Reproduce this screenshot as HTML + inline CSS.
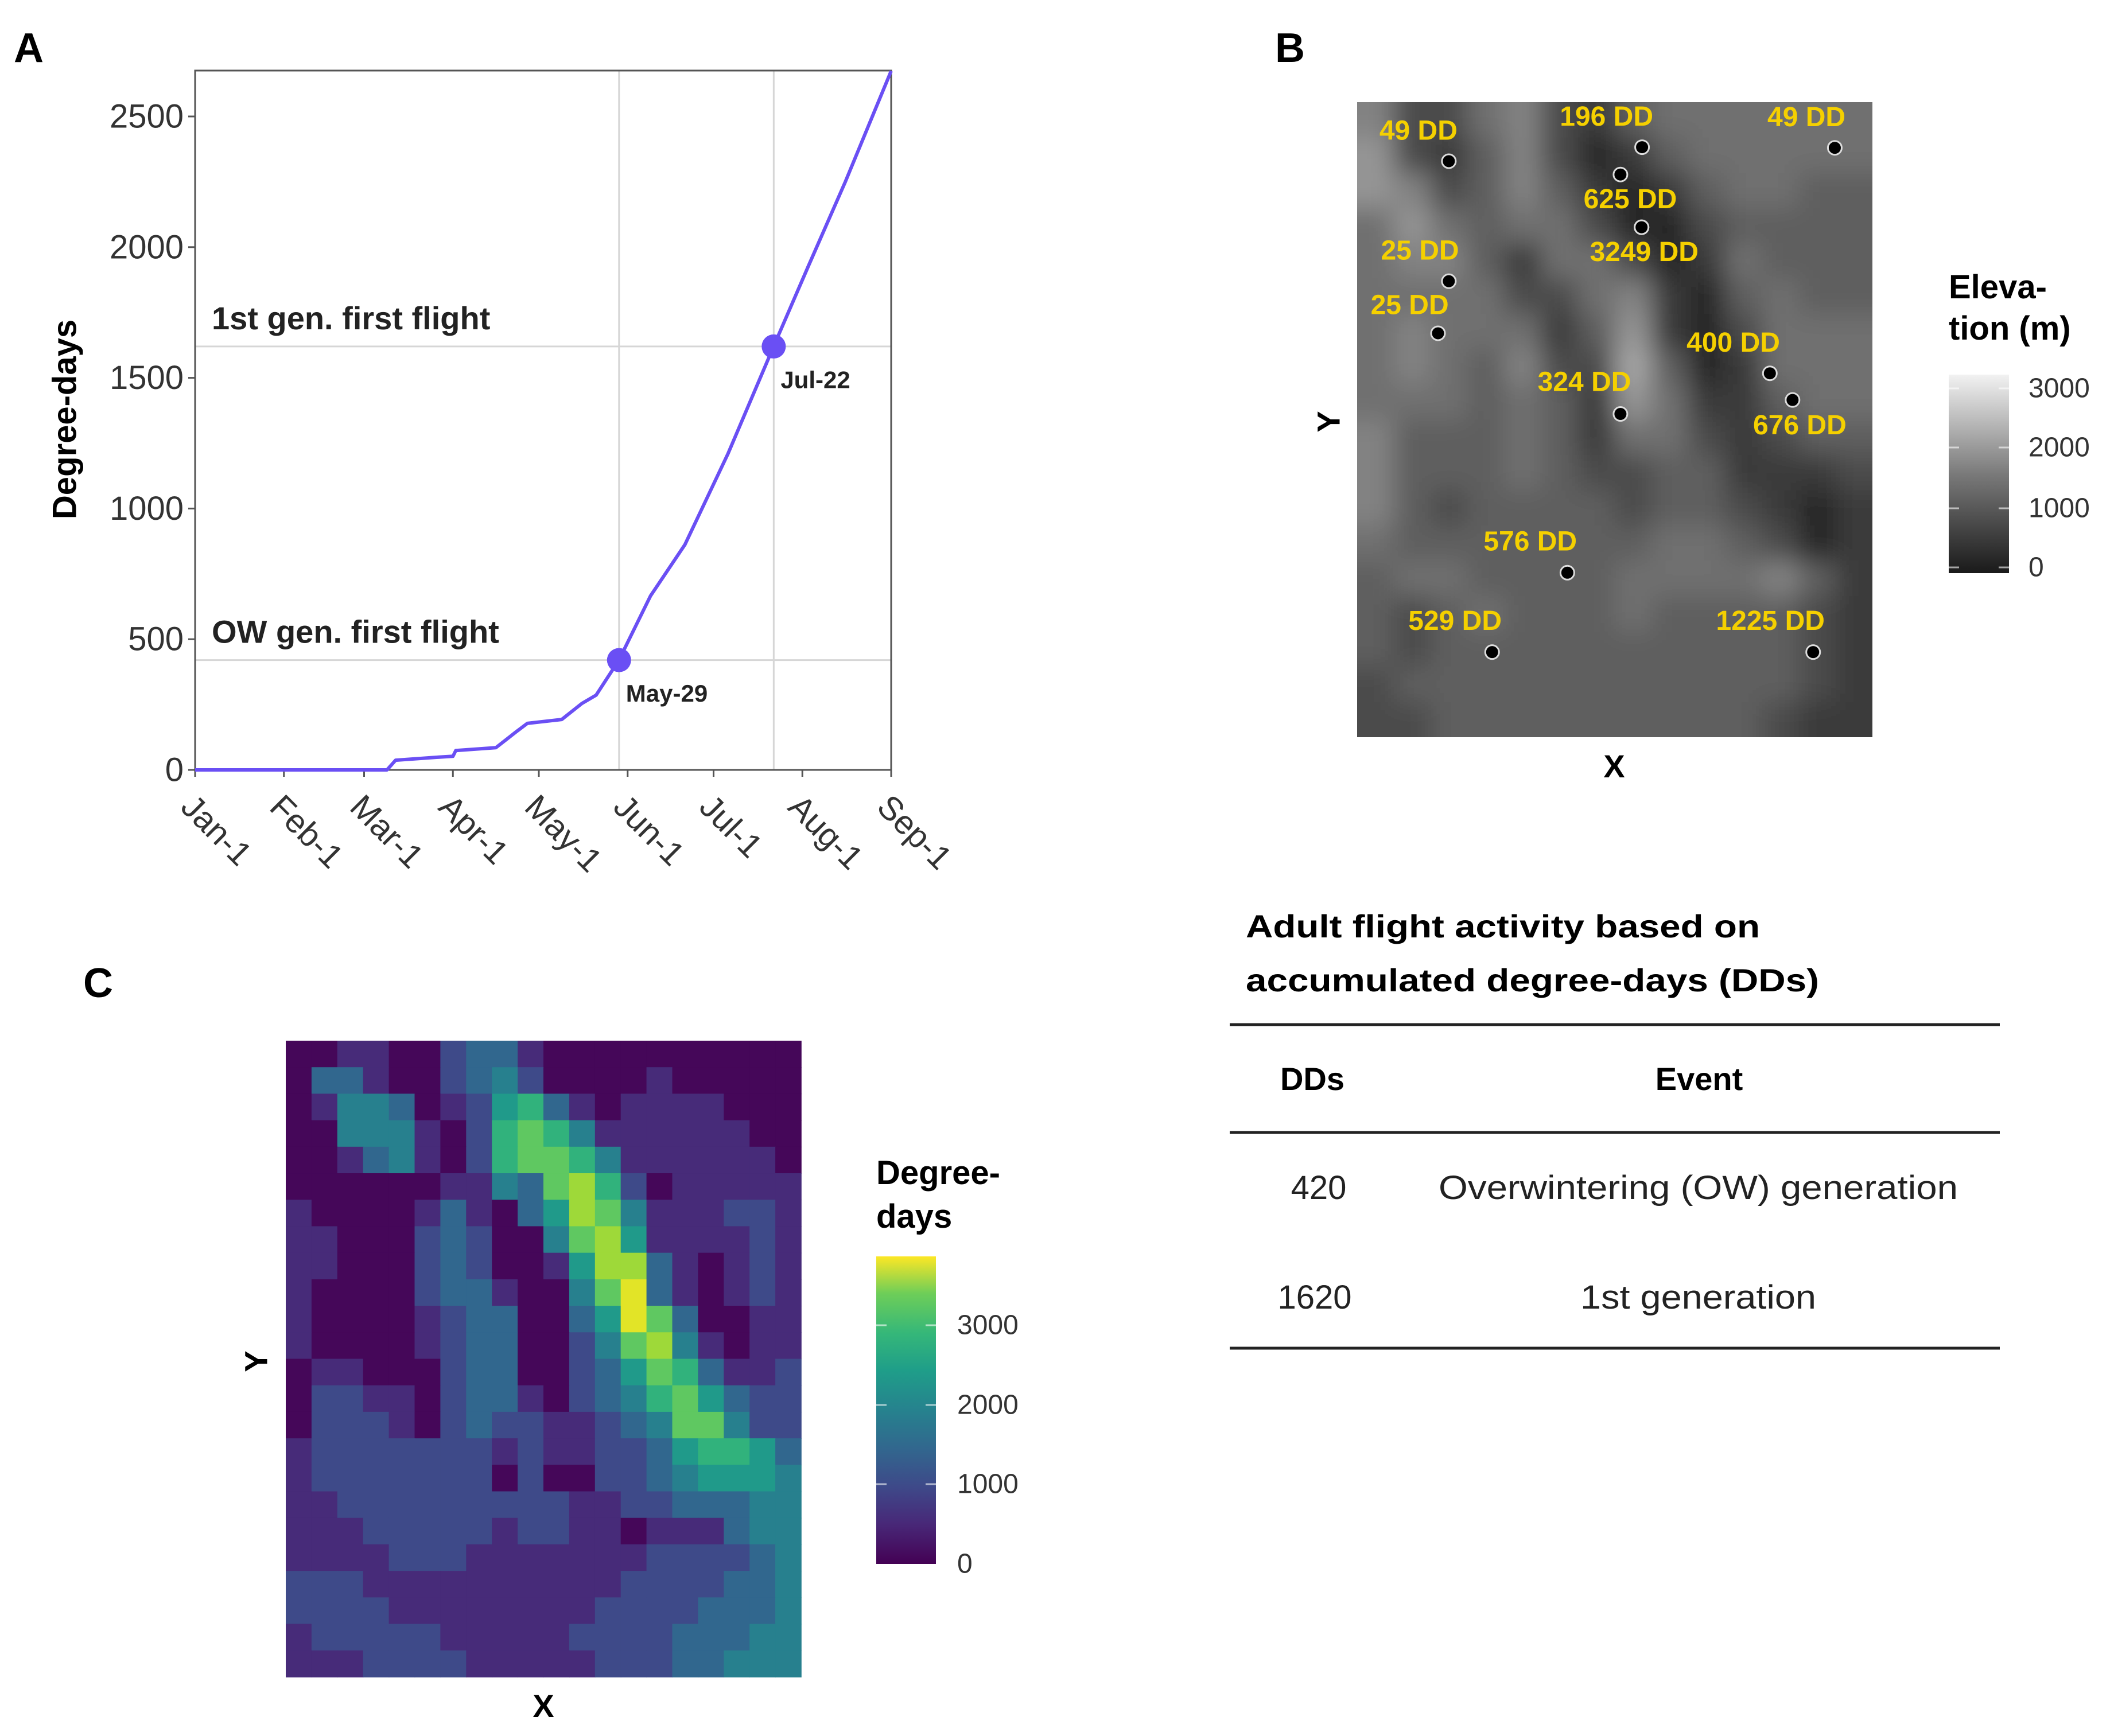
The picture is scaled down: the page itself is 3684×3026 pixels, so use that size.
<!DOCTYPE html>
<html><head><meta charset="utf-8">
<style>
html,body{margin:0;padding:0;background:#fff;}
svg{display:block;font-family:"Liberation Sans",Arial,sans-serif;}
</style></head>
<body>
<svg id="fig" width="3684" height="3026" viewBox="0 0 3684 3026" xmlns="http://www.w3.org/2000/svg">
<defs>
  <filter id="blurT" x="-10%" y="-10%" width="120%" height="120%"><feGaussianBlur stdDeviation="22"/></filter>
  <clipPath id="clipB"><rect x="2365" y="178" width="898" height="1107"/></clipPath>
  <linearGradient id="greyBar" x1="0" y1="1" x2="0" y2="0">
    <stop offset="0" stop-color="#1a1a1a"/><stop offset="0.5" stop-color="#7a7a7a"/><stop offset="1" stop-color="#f2f2f2"/>
  </linearGradient>
  <linearGradient id="virBar" x1="0" y1="1" x2="0" y2="0">
    <stop offset="0" stop-color="#440154"/><stop offset="0.13" stop-color="#482878"/><stop offset="0.25" stop-color="#3e4989"/>
    <stop offset="0.38" stop-color="#31688e"/><stop offset="0.5" stop-color="#26828e"/><stop offset="0.63" stop-color="#1f9e89"/>
    <stop offset="0.75" stop-color="#35b779"/><stop offset="0.88" stop-color="#6ece58"/><stop offset="1" stop-color="#fde725"/>
  </linearGradient>
</defs>

<text x="24" y="108" font-size="72" font-weight="bold">A</text>
<text x="2222" y="108" font-size="72" font-weight="bold">B</text>
<text x="145" y="1738" font-size="72" font-weight="bold">C</text>

<g id="panelA"></g>

<g clip-path="url(#clipB)">
  <rect x="2365" y="178" width="898" height="1107" fill="#5a5a5a"/>
  <g id="terrain" filter="url(#blurT)"></g>
</g>
<g id="bPoints"></g>
<text x="2315" y="735" font-size="56" font-weight="bold" text-anchor="middle" transform="rotate(-90 2315 735)" dominant-baseline="central">Y</text>
<text x="2813" y="1355" font-size="56" font-weight="bold" text-anchor="middle">X</text>
<g>
  <text x="3396" y="520" font-size="58" font-weight="bold">Eleva-</text>
  <text x="3396" y="592" font-size="58" font-weight="bold">tion (m)</text>
  <rect x="3396" y="653" width="105" height="346" fill="url(#greyBar)"/>
  <g stroke="#fff" stroke-width="3" opacity="0.6">
    <line x1="3396" y1="677" x2="3414" y2="677"/><line x1="3483" y1="677" x2="3501" y2="677"/>
    <line x1="3396" y1="780" x2="3414" y2="780"/><line x1="3483" y1="780" x2="3501" y2="780"/>
    <line x1="3396" y1="886" x2="3414" y2="886"/><line x1="3483" y1="886" x2="3501" y2="886"/>
    <line x1="3396" y1="989" x2="3414" y2="989"/><line x1="3483" y1="989" x2="3501" y2="989"/>
  </g>
  <g font-size="48" fill="#333" dominant-baseline="central">
    <text x="3535" y="677">3000</text>
    <text x="3535" y="780">2000</text>
    <text x="3535" y="886">1000</text>
    <text x="3535" y="989">0</text>
  </g>
</g>

<g id="heat"></g>
<text x="446" y="2373" font-size="56" font-weight="bold" text-anchor="middle" transform="rotate(-90 446 2373)" dominant-baseline="central">Y</text>
<text x="947" y="2993" font-size="56" font-weight="bold" text-anchor="middle">X</text>
<g>
  <text x="1527" y="2064" font-size="58" font-weight="bold">Degree-</text>
  <text x="1527" y="2140" font-size="58" font-weight="bold">days</text>
  <rect x="1527" y="2190" width="104" height="536" fill="url(#virBar)"/>
  <g stroke="#fff" stroke-width="3" opacity="0.6">
    <line x1="1527" y1="2310" x2="1545" y2="2310"/><line x1="1613" y1="2310" x2="1631" y2="2310"/>
    <line x1="1527" y1="2449" x2="1545" y2="2449"/><line x1="1613" y1="2449" x2="1631" y2="2449"/>
    <line x1="1527" y1="2587" x2="1545" y2="2587"/><line x1="1613" y1="2587" x2="1631" y2="2587"/>
  </g>
  <g font-size="48" fill="#333" dominant-baseline="central">
    <text x="1668" y="2310">3000</text>
    <text x="1668" y="2449">2000</text>
    <text x="1668" y="2587">1000</text>
    <text x="1668" y="2726">0</text>
  </g>
</g>

<g>
  <text x="2171" y="1634" font-size="56" font-weight="bold" textLength="896" lengthAdjust="spacingAndGlyphs">Adult flight activity based on</text>
  <text x="2171" y="1728" font-size="56" font-weight="bold" textLength="999" lengthAdjust="spacingAndGlyphs">accumulated degree-days (DDs)</text>
  <line x1="2143" y1="1786" x2="3485" y2="1786" stroke="#222" stroke-width="5"/>
  <text x="2287" y="1900" font-size="56" font-weight="bold" text-anchor="middle">DDs</text>
  <text x="2961" y="1900" font-size="56" font-weight="bold" text-anchor="middle">Event</text>
  <line x1="2143" y1="1974" x2="3485" y2="1974" stroke="#222" stroke-width="5"/>
  <text x="2298" y="2090" font-size="58" text-anchor="middle" fill="#222">420</text>
  <text x="2507" y="2090" font-size="58" fill="#222" textLength="905" lengthAdjust="spacingAndGlyphs">Overwintering (OW) generation</text>
  <text x="2291" y="2281" font-size="58" text-anchor="middle" fill="#222">1620</text>
  <text x="2754" y="2281" font-size="58" fill="#222" textLength="411" lengthAdjust="spacingAndGlyphs">1st generation</text>
  <line x1="2143" y1="2350" x2="3485" y2="2350" stroke="#222" stroke-width="5"/>
</g>
</svg>

<script>
const NS = "http://www.w3.org/2000/svg";
// ---- Panel A data ----
const curveDays = [0, 67, 70, 84, 90, 91, 105, 112, 116, 128, 135, 140, 148, 159, 171, 186, 202, 214, 227, 243];
const curveDD   = [0, 0, 37, 48, 52, 74, 85, 145, 178, 193, 254, 286, 421, 666, 862, 1209, 1621, 1925, 2250, 2674];
const monthLabels = ["Jan-1","Feb-1","Mar-1","Apr-1","May-1","Jun-1","Jul-1","Aug-1","Sep-1"];
const monthDays = [0, 31, 59, 90, 120, 151, 181, 212, 243];
const yTicks = [0, 500, 1000, 1500, 2000, 2500];
const eventDays = [148, 202];
const eventDD = [420, 1620];
const eventLabels = ["May-29", "Jul-22"];
const thresholdLabels = ["OW gen. first flight", "1st gen. first flight"];

// ---- Panel B data (fractions of raster) ----
const siteLabels = ["49 DD","196 DD","49 DD","","625 DD","3249 DD","25 DD","25 DD","400 DD","676 DD","324 DD","576 DD","529 DD","1225 DD"];
const siteX = [0.178, 0.553, 0.927, 0.511, 0.552, 0.552, 0.178, 0.157, 0.801, 0.845, 0.511, 0.408, 0.262, 0.885];
const siteY = [0.093, 0.071, 0.072, 0.114, 0.197, 0.197, 0.282, 0.364, 0.427, 0.469, 0.491, 0.741, 0.866, 0.866];
const labelX = [0.119, 0.484, 0.872, 0, 0.530, 0.557, 0.122, 0.102, 0.730, 0.859, 0.441, 0.336, 0.190, 0.802];
const labelY = [0.045, 0.023, 0.024, 0, 0.153, 0.236, 0.234, 0.320, 0.379, 0.509, 0.441, 0.692, 0.817, 0.817];
// terrain grey levels 0..9 (14 cols x 18 rows)
const terrainRows = [
"63356324555555","73246312455555","76346421245544","57545531134444","56642553125444",
"55553356214544","56555247213555","56546338412555","55545427522455","64445425532344",
"64445433442223","64344443443212","54444444554312","45544445555642","43454445444432",
"43444444444432","34444444444432","33444444444322"];

// ---- Panel C data (levels *400 DD; 20 cols x 24 rows) ----
const heatRows = [
"00110023310000000000","03310023420000100000","01443012563101111000","00444102676411111100",
"00134102677641111110","00000011437862011111","10000131035874111221","11000232004785111121",
"11000232001588310121","10000233100479310121","10000123300359730011","10000123300247841011",
"01100023300235763112","02211023310234675322","02221023221123477422","12222222121122356653",
"12222222020022345554","11222222222112233344","11122222122110111344","11112221111111222234",
"22211111111112222334","22221111111122223334","12222211111222233344","11122221111122233444"];
const heatMax = 3820;

function el(tag, attrs, parent){ const e=document.createElementNS(NS,tag); for(const k in attrs) e.setAttribute(k,attrs[k]); parent.appendChild(e); return e; }

// Panel A
(function(){
  const g = document.getElementById("panelA");
  const L=340,R=1553,T=123,B=1342;
  const xs = d => L + d/243*(R-L);
  const ys = v => B - v*(B-203)/2500;
  eventDD.forEach(v=>{
    const ln = el("line",{x1:L,x2:R,y1:ys(v),y2:ys(v),stroke:"#d6d6d6","stroke-width":3},g);
    
    
  });
  eventDays.forEach(d=>{
    const ln = el("line",{x1:xs(d),x2:xs(d),y1:T,y2:B,stroke:"#d6d6d6","stroke-width":3},g);
    
    
  });
  const fr = el("rect",{x:L,y:T,width:R-L,height:B-T,fill:"none",stroke:"#555","stroke-width":3},g);
  
  
  yTicks.forEach(v=>{
    el("line",{x1:L-12,x2:L,y1:ys(v),y2:ys(v),stroke:"#555","stroke-width":3},g);
    const t = el("text",{x:L-20,y:ys(v),"font-size":58,fill:"#333","text-anchor":"end","dominant-baseline":"central"},g);
    t.textContent=v;
    
    
  });
  monthDays.forEach((d,i)=>{
    el("line",{x1:xs(d),x2:xs(d),y1:B,y2:B+12,stroke:"#555","stroke-width":3},g);
    const x=xs(d)-14, y=B+54;
    const t = el("text",{x:x,y:y,"font-size":58,fill:"#333",transform:`rotate(45 ${x} ${y})`,"dominant-baseline":"central"},g);
    t.textContent=monthLabels[i];
    
    
  });
  const pts = curveDays.map((d,i)=>xs(d).toFixed(1)+","+ys(curveDD[i]).toFixed(1)).join(" ");
  const pl = el("polyline",{points:pts,fill:"none",stroke:"#6a4ff4","stroke-width":6,"stroke-linejoin":"round"},g);
  
  
  eventDays.forEach((d,i)=>{
    const c = el("circle",{cx:xs(d),cy:ys(eventDD[i]),r:21,fill:"#6a4ff4"},g);
    
    
    const t = el("text",{x:xs(d)+12,y:ys(eventDD[i])+58,"font-size":42,"font-weight":"bold",fill:"#222","dominant-baseline":"central"},g);
    t.textContent=eventLabels[i];
    
    
    const th = el("text",{x:L+29,y:ys(eventDD[i])-30,"font-size":56,"font-weight":"bold",fill:"#222"},g);
    th.textContent=thresholdLabels[i];
    
    
  });
  const yt = el("text",{x:113,y:731,"font-size":58,"font-weight":"bold","text-anchor":"middle","dominant-baseline":"central",transform:"rotate(-90 113 731)"},g);
  yt.textContent="Degree-days";
  
  
})();

// Panel B
(function(){
  const L=2365,T=178,W=898,H=1107;
  const tg=document.getElementById("terrain");
  const nr=terrainRows.length, nc=terrainRows[0].length, cw=W/nc, ch=H/nr;
  terrainRows.forEach((row,r)=>{
    for(let c=0;c<nc;c++){
      const v=Math.round(22+(+row[c])*18);
      const x0 = c===0 ? L-60 : L+c*cw, x1 = c===nc-1 ? L+W+60 : L+(c+1)*cw;
      const y0 = r===0 ? T-60 : T+r*ch, y1 = r===nr-1 ? T+H+60 : T+(r+1)*ch;
      const rc=el("rect",{x:x0.toFixed(1),y:y0.toFixed(1),width:(x1-x0+1).toFixed(1),height:(y1-y0+1).toFixed(1),fill:`rgb(${v},${v},${v})`},tg);
      
      
    }
  });
  const g=document.getElementById("bPoints");
  siteX.forEach((fx,i)=>{
    const cx=L+fx*W, cy=T+siteY[i]*H;
    const c=el("circle",{cx:cx,cy:cy,r:12,fill:"#000",stroke:"#ddd","stroke-width":3},g);
    
    
    if(siteLabels[i]){
      const t=el("text",{x:L+labelX[i]*W,y:T+labelY[i]*H,"font-size":48,"font-weight":"bold",fill:"#f5d000","text-anchor":"middle","dominant-baseline":"central"},g);
      t.textContent=siteLabels[i];
      
      
    }
  });
})();

// Panel C
(function(){
  const g=document.getElementById("heat");
  const L=498,T=1814,W=898,H=1109;
  const stops=[[68,1,84],[72,40,120],[62,73,137],[49,104,142],[38,130,142],[31,158,137],[53,183,121],[110,206,88],[181,222,43],[253,231,37]];
  function vir(t){ t=Math.max(0,Math.min(1,t))*(stops.length-1); const i=Math.min(Math.floor(t),stops.length-2), f=t-i;
    const a=stops[i],b=stops[i+1]; return `rgb(${Math.round(a[0]+(b[0]-a[0])*f)},${Math.round(a[1]+(b[1]-a[1])*f)},${Math.round(a[2]+(b[2]-a[2])*f)})`; }
  const nr=heatRows.length, nc=heatRows[0].length, cw=W/nc, ch=H/nr;
  heatRows.forEach((row,r)=>{
    for(let c=0;c<nc;c++){
      const v=Math.min(+row[c]*400+60, heatMax);
      const rc=el("rect",{x:(L+c*cw).toFixed(2),y:(T+r*ch).toFixed(2),width:(cw+0.8).toFixed(2),height:(ch+0.8).toFixed(2),fill:vir(v/heatMax)},g);
      
      
    }
  });
})();
</script>
</body></html>
